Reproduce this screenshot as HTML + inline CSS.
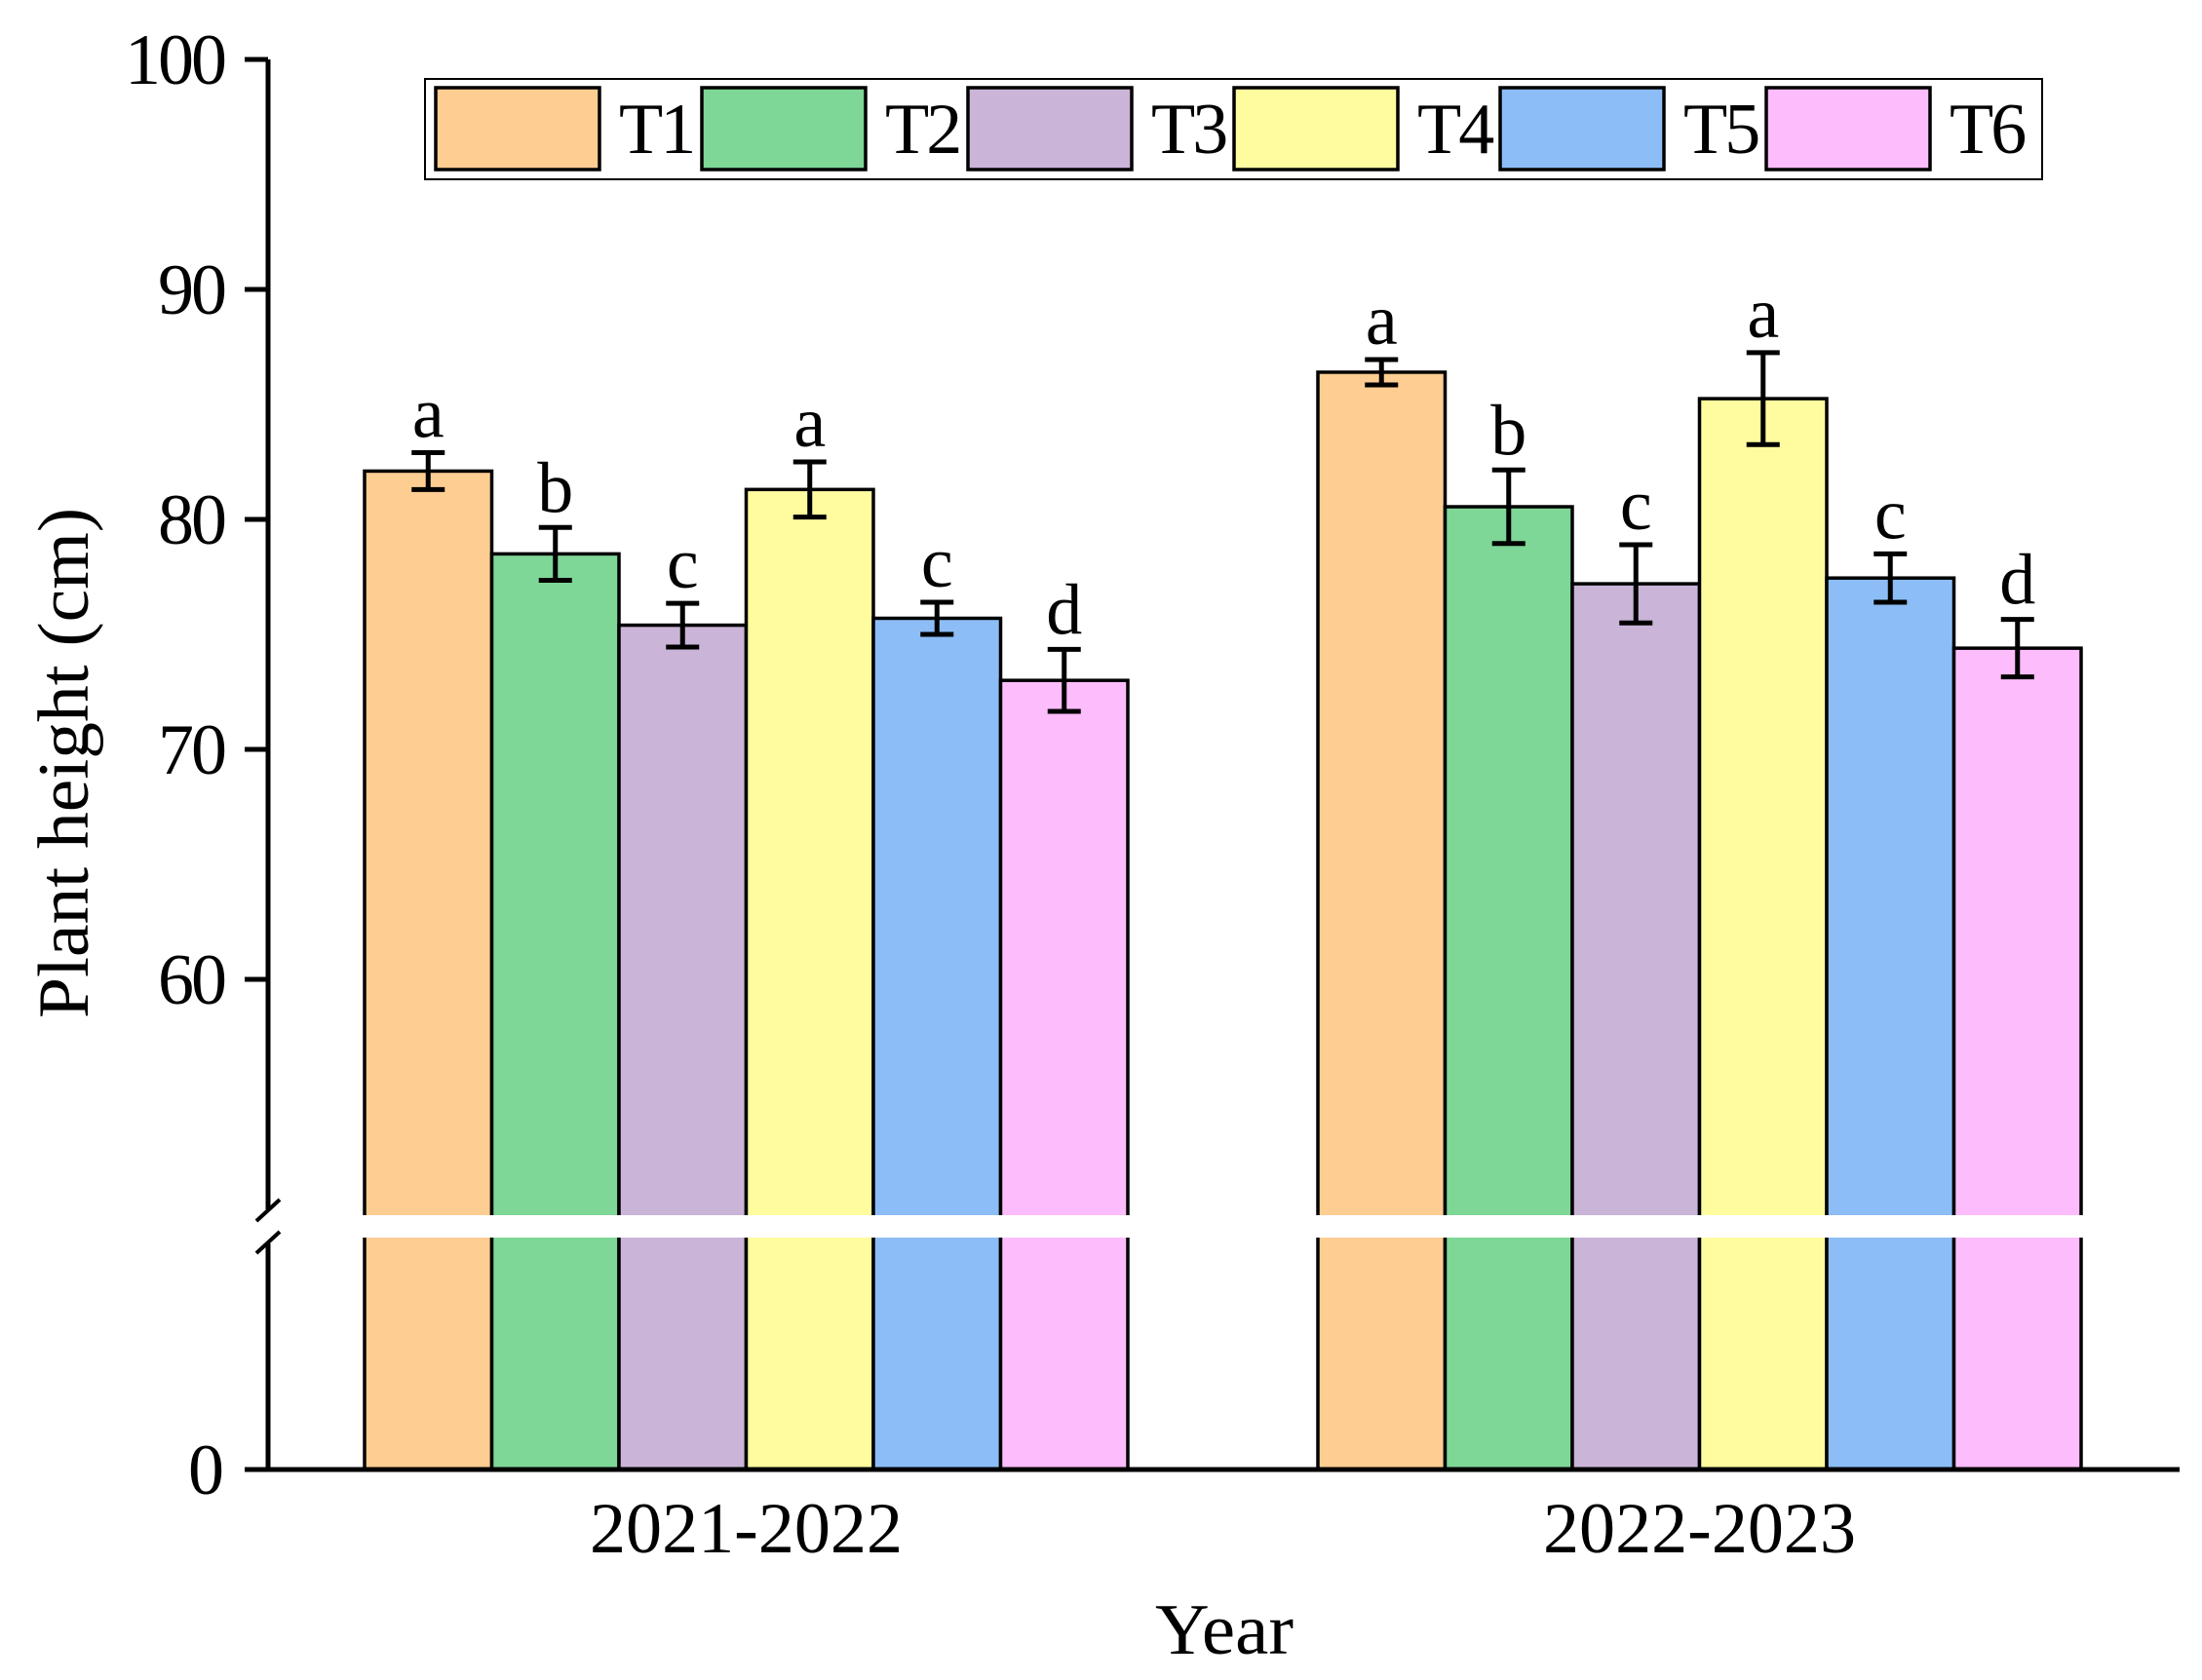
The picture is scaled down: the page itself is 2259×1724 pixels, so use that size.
<!DOCTYPE html>
<html><head><meta charset="utf-8"><style>
html,body{margin:0;padding:0;background:#fff;}
svg{display:block;font-family:"Liberation Serif",serif;}
</style></head><body>
<svg id="chart" width="2259" height="1724" viewBox="0 0 2259 1724" xmlns="http://www.w3.org/2000/svg">
<rect width="2259" height="1724" fill="#fff"/>
<g id="bars"></g>
<g id="axes"></g>
<g id="legend"></g>
<text x="0" y="0" font-size="74" text-anchor="middle" textLength="524" lengthAdjust="spacingAndGlyphs" transform="translate(90,783) rotate(-90)">Plant height (cm)</text>
<text x="1256" y="1697" font-size="74" text-anchor="middle" textLength="142" lengthAdjust="spacingAndGlyphs">Year</text>
</svg>
<script>
const categories = ["2021-2022", "2022-2023"];
const series = ["T1","T2","T3","T4","T5","T6"];
const colors = ["#fecd92","#7ed697","#cab4d7","#fffc9f","#8dbdf6","#fdbcfb"];
const values2122 = [82.1, 78.5, 75.4, 81.3, 75.7, 73.0];
const values2223 = [86.4, 80.55, 77.2, 85.25, 77.45, 74.4];
const errors2122 = [0.8, 1.15, 0.95, 1.2, 0.7, 1.35];
const errors2223 = [0.55, 1.6, 1.7, 2.0, 1.05, 1.25];
const letters2122 = ["a","b","c","a","c","d"];
const letters2223 = ["a","b","c","a","c","d"];
const yTicks = [60, 70, 80, 90, 100];
const yTickLabels = ["60","70","80","90","100"];

const NS = "http://www.w3.org/2000/svg";
function mk(tag, attrs, parent){const e=document.createElementNS(NS,tag);for(const k in attrs)e.setAttribute(k,attrs[k]);parent.appendChild(e);return e;}
const y0px = 1508, breakTop = 1247, breakBot = 1270;
function yScale(v){ return 533 - (v - 80) * 23.6; }
const groupStart = [374, 1352];
const barW = 130.5;
function xBar(g, i){ return groupStart[g] + i * barW; }

const bars = document.getElementById('bars');
const allVals = [values2122, values2223];
const allErr = [errors2122, errors2223];
const allLet = [letters2122, letters2223];
for (let g=0; g<categories.length; g++){
  for (let i=0; i<series.length; i++){
    const v = allVals[g][i], e = allErr[g][i];
    const x = xBar(g,i), yt = yScale(v);
    const r = mk('rect',{x:x,y:yt,width:barW,height:y0px-yt,fill:colors[i],stroke:'#000','stroke-width':3.5},bars);
    
    
    const cx = x + barW/2, yh = yScale(v+e), yl = yScale(v-e);
    const eb = mk('path',{d:`M${cx},${yh}V${yl}M${cx-17},${yh}H${cx+17}M${cx-17},${yl}H${cx+17}`,stroke:'#000','stroke-width':5,fill:'none'},bars);
    
    
    const t = mk('text',{x:cx,y:yh-16,'font-size':74,'text-anchor':'middle'},bars);
    t.textContent = allLet[g][i];
    
    
  }
  const cl = mk('text',{x:groupStart[g]+3*barW,y:1593,'font-size':74,'text-anchor':'middle',textLength:321,lengthAdjust:'spacingAndGlyphs'},bars);
  cl.textContent = categories[g];
  
  
}
const gap = mk('rect',{x:300,y:breakTop,width:1900,height:breakBot-breakTop,fill:'#fff'},bars);



const axes = document.getElementById('axes');
const yl = mk('path',{d:`M275,61V${breakTop-6}M275,${breakBot+6}V${y0px}`,stroke:'#000','stroke-width':5,fill:'none'},axes);


const br = mk('path',{d:`M263,${breakTop+6}L287,${breakTop-16}M263,${breakBot+16}L287,${breakBot-6}`,stroke:'#000','stroke-width':4},axes);


const xl = mk('line',{x1:251,y1:y0px,x2:2236,y2:y0px,stroke:'#000','stroke-width':5},axes);


for (let k=0; k<yTicks.length; k++){
  const y = yScale(yTicks[k]);
  const tk = mk('line',{x1:251,y1:y,x2:275,y2:y,stroke:'#000','stroke-width':5},axes);
  
  
  const tl = mk('text',{x:230,y:y+25,'font-size':74,'text-anchor':'end','letter-spacing':-3},axes);
  tl.textContent = yTickLabels[k];
  
  
}
const tl0 = mk('text',{x:230,y:y0px+25,'font-size':74,'text-anchor':'end'},axes);
tl0.textContent = "0";



const legend = document.getElementById('legend');
const lb = mk('rect',{x:436,y:81,width:1659,height:103,fill:'#fff',stroke:'#000','stroke-width':2},legend);


for (let i=0; i<series.length; i++){
  const x = 447 + i*273;
  const sw = mk('rect',{x:x,y:90,width:168,height:84,fill:colors[i],stroke:'#000','stroke-width':3.5},legend);
  
  
  const lt = mk('text',{x:x+188,y:157,'font-size':74,'letter-spacing':-3},legend);
  lt.textContent = series[i];
  
  
}
</script>
</body></html>
